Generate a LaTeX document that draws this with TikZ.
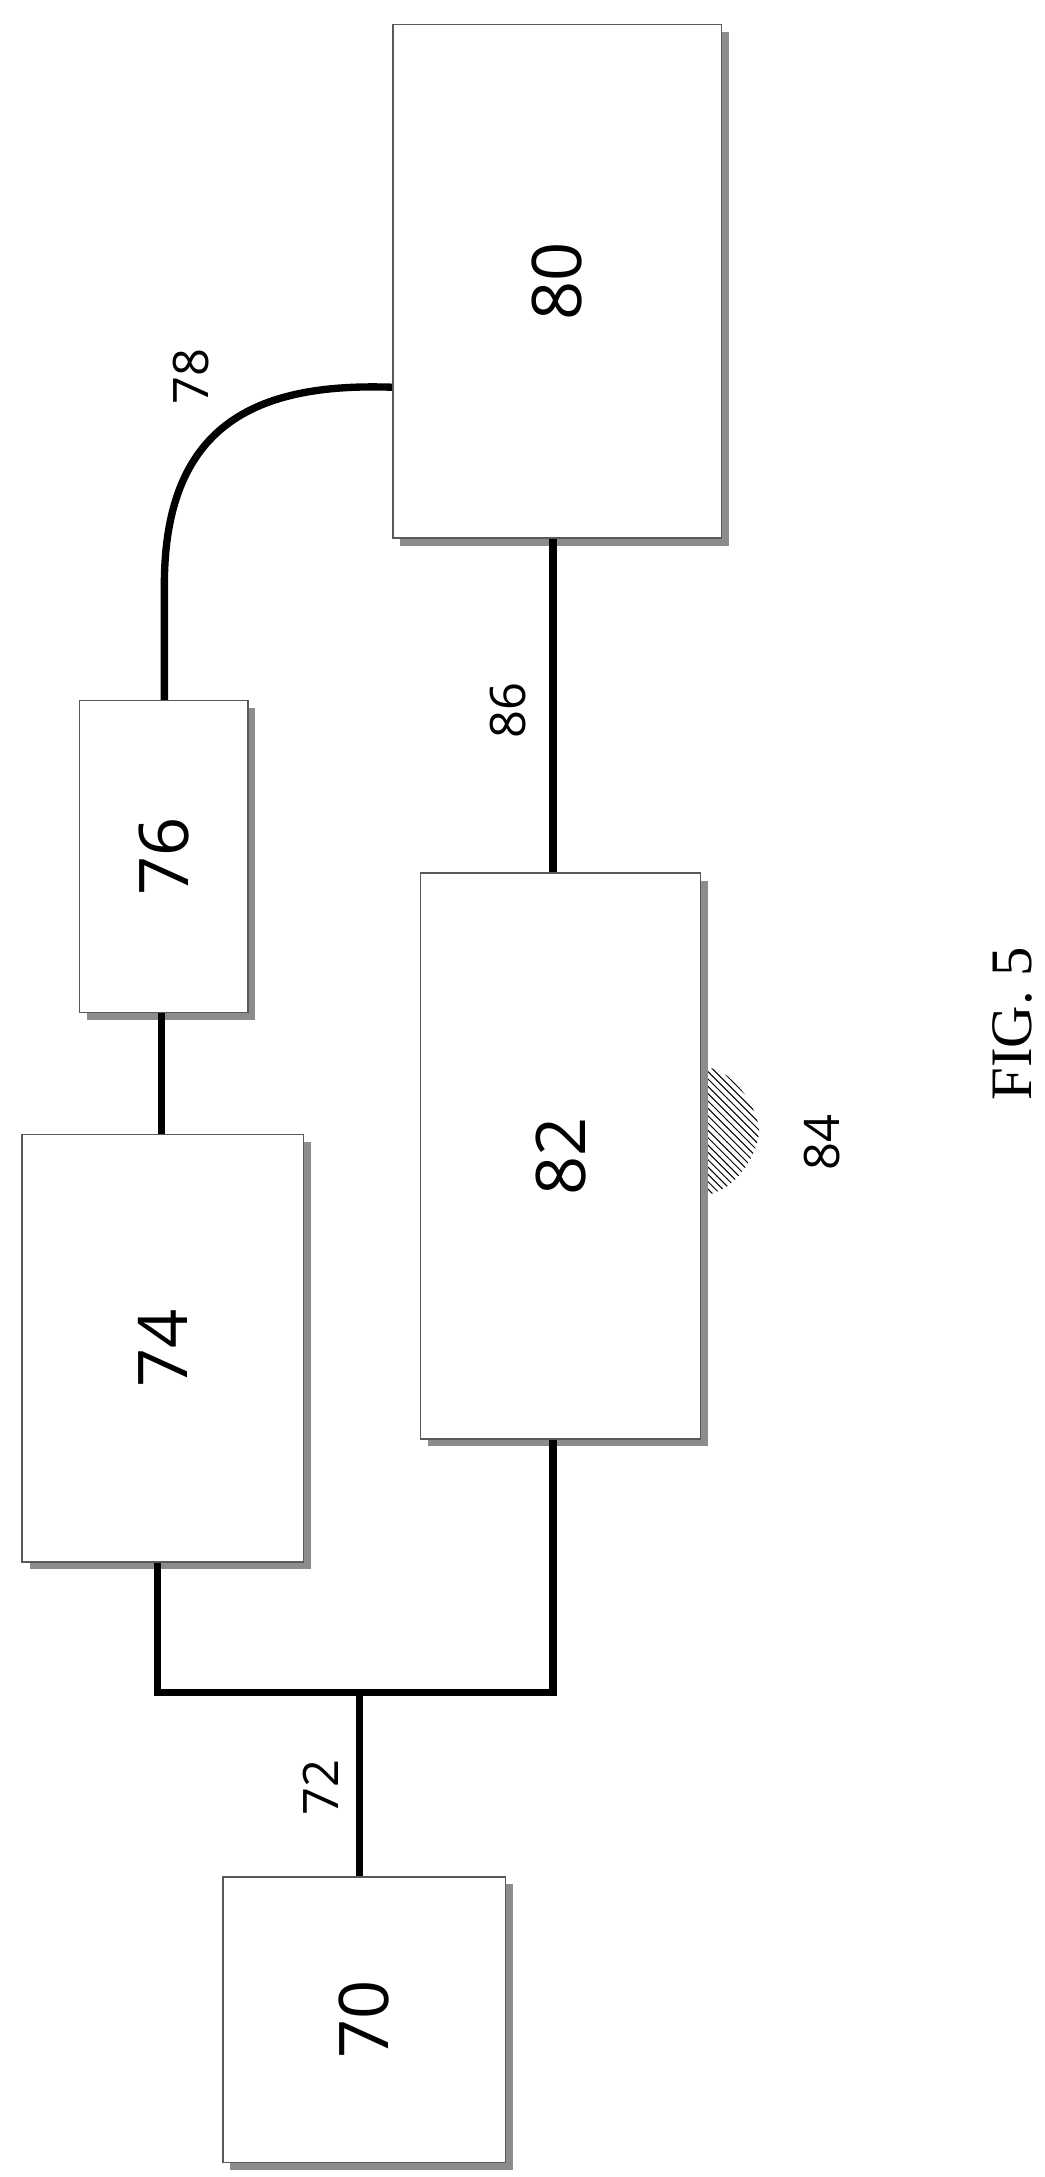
\documentclass[tikz,border=0pt]{standalone}
\usepackage{fontspec}
\setmainfont{Liberation Serif}
\setsansfont{Open Sans}
\usetikzlibrary{patterns,shadows}
\begin{document}
\begin{tikzpicture}[x=0.02cm,y=-0.02cm,semithick]
  \tikzset{blk/.style={draw=black!65, line width=0.7pt, fill=white,
      drop shadow={shadow xshift=3pt, shadow yshift=-3pt, fill=black!45, opacity=1}},
    wire/.style={line width=3pt},
    num/.style={font=\sffamily\fontsize{28}{30}\selectfont, rotate=90},
    tag/.style={font=\sffamily\fontsize{20}{22}\selectfont, rotate=90}}
  \useasboundingbox (0,0) rectangle (750,1563);
  % bump behind 82
  \fill[pattern=north west lines, pattern color=black] (505,766) .. controls (530,768) and (545,800) .. (545,812) .. controls (545,825) and (530,856) .. (505,858) -- cycle;
  \node[blk, minimum width=236*0.02cm, minimum height=369*0.02cm] (b80) at (400,202) {};
  \node[blk, minimum width=121*0.02cm, minimum height=224*0.02cm] (b76) at (117.5,615) {};
  \node[blk, minimum width=202*0.02cm, minimum height=307*0.02cm] (b74) at (117,968) {};
  \node[blk, minimum width=201*0.02cm, minimum height=406*0.02cm] (b82) at (402.5,830) {};
  \node[blk, minimum width=203*0.02cm, minimum height=205*0.02cm] (b70) at (261.5,1450) {};
  \node[num] at (b80) {80};
  \node[num] at (b76) {76};
  \node[num] at (b74) {74};
  \node[num] at (b82) {82};
  \node[num] at (b70) {70};
  % connectors
  \coordinate (j) at (258,1215);
  \coordinate (jl) at (113,1215);
  \coordinate (jr) at (397,1215);
  \draw[wire] (b70.north -| j) -- (j);
  \draw[wire] (b74.south -| jl) -- (jl) -- (jr) -- (b82.south -| jr);
  \draw[wire] (b74.north -| 116,0) -- (b76.south -| 116,0);
  \draw[wire] (b82.north -| 397,0) -- (b80.south -| 397,0);
  \draw[wire] (b76.north -| 118,0) -- (118,420) .. controls (118,300) and (190,275) .. (b80.west |- 0,278);
  % labels
  \node[tag] at (230,1283) {72};
  \node[tag] at (137,270) {78};
  \node[tag] at (365,510) {86};
  \node[tag] at (590,820) {84};
  \node[rotate=90, font=\fontsize{24}{26}\selectfont] at (727,735) {FIG. 5};
\end{tikzpicture}
\end{document}
